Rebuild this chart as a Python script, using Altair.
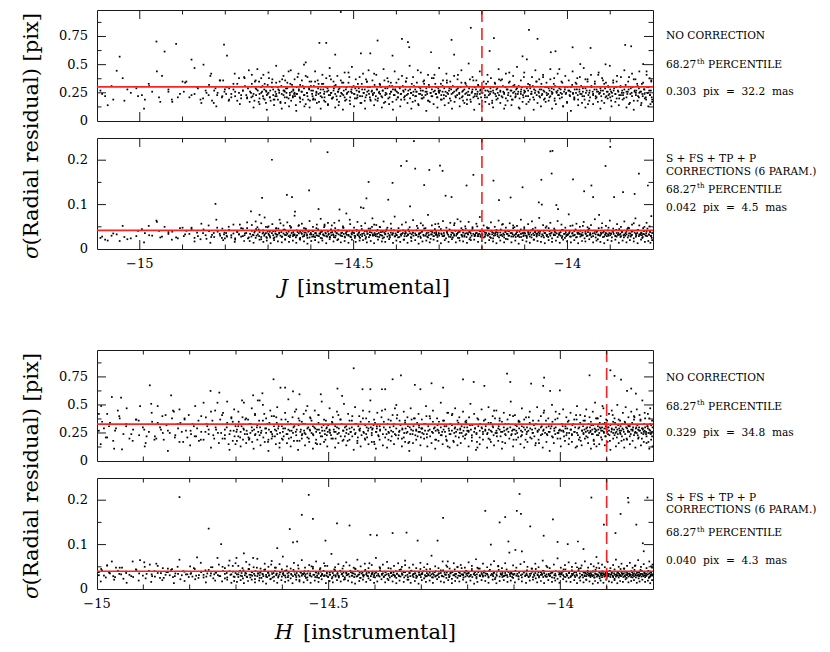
import altair as alt
import pandas as pd

FONT = "DejaVu Serif"
W, H = 556, 111

# ================= J group: stars read individually (magnitude, residual before / after)
J_X = [
    -15.092, -15.081, -15.066, -15.054, -15.047, -15.036, -15.021, -15.008,
    -14.995, -14.988, -14.979, -14.971, -14.961, -14.955, -14.948, -14.942, -14.933, -14.924, -14.915, -14.906,
    -14.897, -14.891, -14.884, -14.879, -14.872, -14.866, -14.858, -14.851, -14.846, -14.839,
    -14.833, -14.827, -14.823, -14.818, -14.812, -14.807, -14.803, -14.801,
    -14.798, -14.796, -14.791, -14.786, -14.781, -14.777, -14.772, -14.768, -14.763, -14.759,
    -14.754, -14.749, -14.745, -14.740, -14.736, -14.731, -14.727, -14.722, -14.720, -14.716,
    -14.714, -14.711, -14.708, -14.705, -14.703, -14.701,
    -14.699, -14.696, -14.691, -14.688, -14.685, -14.681, -14.678, -14.674, -14.671, -14.667,
    -14.664, -14.661, -14.658, -14.656, -14.652, -14.649, -14.646, -14.644, -14.641, -14.637,
    -14.634, -14.631, -14.628, -14.625, -14.622, -14.619, -14.616, -14.612, -14.609, -14.606,
    -14.604, -14.603, -14.683, -14.662, -14.639, -14.615,
    -14.599, -14.596, -14.593, -14.590, -14.587, -14.584, -14.582, -14.580, -14.577, -14.574,
    -14.571, -14.568, -14.566, -14.564, -14.561, -14.558, -14.556, -14.553, -14.550, -14.547,
    -14.545, -14.543, -14.540, -14.537, -14.535, -14.533, -14.530, -14.527, -14.524, -14.521,
    -14.518, -14.515, -14.512, -14.509, -14.506, -14.503,
    -14.499, -14.496, -14.493, -14.490, -14.487, -14.485, -14.483, -14.480, -14.477, -14.474,
    -14.471, -14.470, -14.467, -14.465, -14.462, -14.461, -14.458, -14.455, -14.452, -14.449,
    -14.446, -14.444, -14.441, -14.438, -14.435, -14.432, -14.429, -14.426, -14.423, -14.419,
    -14.416, -14.413, -14.410, -14.409, -14.406, -14.403,
    -14.399, -14.396, -14.393, -14.389, -14.387, -14.384, -14.381, -14.378, -14.376, -14.373,
    -14.370, -14.368, -14.365, -14.362, -14.359, -14.356, -14.353, -14.350, -14.347, -14.344,
    -14.341, -14.338, -14.335, -14.332, -14.329, -14.326, -14.323, -14.320, -14.319, -14.316,
    -14.313, -14.310, -14.307, -14.305, -14.302, -14.301,
    -14.298, -14.295, -14.292, -14.289, -14.285, -14.282, -14.279, -14.276, -14.273, -14.271,
    -14.268, -14.265, -14.262, -14.259, -14.256, -14.253, -14.250, -14.247, -14.244, -14.241,
    -14.238, -14.236, -14.233, -14.230, -14.227, -14.226, -14.223, -14.220, -14.217, -14.214,
    -14.211, -14.208, -14.206, -14.204, -14.202, -14.201,
    -14.199, -14.196, -14.193, -14.190, -14.187, -14.184, -14.182, -14.179, -14.176, -14.173,
    -14.172, -14.169, -14.166, -14.163, -14.160, -14.157, -14.154, -14.151, -14.148, -14.145,
    -14.142, -14.139, -14.136, -14.133, -14.130, -14.127, -14.124, -14.121, -14.118, -14.115,
    -14.112, -14.109, -14.106, -14.105, -14.103, -14.101,
    -14.099, -14.095, -14.092, -14.090, -14.087, -14.084, -14.081, -14.078, -14.075, -14.072,
    -14.070, -14.067, -14.064, -14.061, -14.060, -14.057, -14.054, -14.051, -14.048, -14.045,
    -14.042, -14.040, -14.039, -14.037, -14.035, -14.032, -14.030, -14.028, -14.026, -14.022,
    -14.019, -14.016, -14.013, -14.010, -14.006, -14.003,
    -13.998, -13.995, -13.992, -13.988, -13.987, -13.984, -13.981, -13.978, -13.975, -13.972,
    -13.970, -13.967, -13.964, -13.961, -13.958, -13.955, -13.952, -13.949, -13.946, -13.944,
    -13.940, -13.937, -13.934, -13.931, -13.928, -13.926, -13.923, -13.920, -13.917, -13.914,
    -13.911, -13.909, -13.906, -13.904, -13.902, -13.900,
    -13.898, -13.895, -13.891, -13.888, -13.885, -13.882, -13.879, -13.876, -13.873, -13.870,
    -13.867, -13.865, -13.862, -13.859, -13.856, -13.853, -13.851, -13.848, -13.845, -13.843,
    -13.840, -13.837, -13.835, -13.833, -13.830, -13.827, -13.825, -13.823, -13.820, -13.817,
    -13.815, -13.812, -13.810, -13.807, -13.805, -13.802,
]
J_TOP = [
    0.27, 0.22, 0.31, 0.446, 0.571, 0.18, 0.25, 0.29,
    0.23, 0.19, 0.33, 0.26, 0.705, 0.21, 0.40, 0.616, 0.28, 0.17, 0.684, 0.24,
    0.26, 0.35, 0.21, 0.545, 0.24, 0.30, 0.19, 0.50, 0.27, 0.23,
    0.42, 0.16, 0.29, 0.25, 0.36, 0.22, 0.678, 0.28,
    0.24, 0.58, 0.29, 0.21, 0.33, 0.26, 0.18, 0.38, 0.23, 0.27,
    0.31, 0.20, 0.45, 0.25, 0.22, 0.35, 0.28, 0.17, 0.24, 0.30,
    0.26, 0.41, 0.19, 0.27, 0.23, 0.32,
    0.25, 0.21, 0.34, 0.28, 0.19, 0.24, 0.30, 0.27, 0.16, 0.37,
    0.23, 0.26, 0.29, 0.21, 0.44, 0.25, 0.18, 0.32, 0.27, 0.22,
    0.24, 0.39, 0.28, 0.20, 0.26, 0.31, 0.23, 0.52, 0.25, 0.19,
    0.29, 0.35, 0.22, 0.27, 0.24, 0.13,
    0.27, 0.22, 0.31, 0.19, 0.25, 0.36, 0.24, 0.693, 0.28, 0.21,
    0.33, 0.26, 0.17, 0.693, 0.29, 0.23, 0.40, 0.25, 0.20, 0.27,
    0.31, 0.589, 0.22, 0.26, 0.14, 0.29, 0.967, 0.24, 0.34, 0.21,
    0.28, 0.25, 0.43, 0.18, 0.26, 0.30,
    0.24, 0.29, 0.20, 0.33, 0.26, 0.22, 0.60, 0.28, 0.25, 0.18,
    0.37, 0.23, 0.30, 0.27, 0.21, 0.60, 0.26, 0.24, 0.42, 0.19,
    0.28, 0.714, 0.25, 0.32, 0.22, 0.27, 0.16, 0.29, 0.24, 0.35,
    0.21, 0.26, 0.31, 0.58, 0.23, 0.28,
    0.26, 0.21, 0.30, 0.24, 0.729, 0.27, 0.19, 0.35, 0.23, 0.70,
    0.655, 0.28, 0.25, 0.17, 0.31, 0.22, 0.26, 0.45, 0.24, 0.29,
    0.20, 0.27, 0.33, 0.23, 0.26, 0.18, 0.30, 0.25, 0.61, 0.22,
    0.38, 0.27, 0.24, 0.21, 0.29, 0.26,
    0.27, 0.23, 0.31, 0.20, 0.26, 0.34, 0.24, 0.29, 0.18, 0.72,
    0.25, 0.589, 0.22, 0.28, 0.41, 0.24, 0.30, 0.21, 0.27, 0.16,
    0.33, 0.25, 0.23, 0.29, 0.19, 0.827, 0.26, 0.36, 0.22, 0.28,
    0.24, 0.31, 0.15, 0.27, 0.21, 0.25,
    0.25, 0.29, 0.21, 0.33, 0.27, 0.23, 0.621, 0.26, 0.18, 0.30,
    0.735, 0.24, 0.28, 0.20, 0.37, 0.26, 0.22, 0.31, 0.25, 0.14,
    0.28, 0.23, 0.43, 0.27, 0.19, 0.25, 0.32, 0.22, 0.29, 0.26,
    0.11, 0.24, 0.30, 0.574, 0.21, 0.27,
    0.26, 0.547, 0.22, 0.809, 0.29, 0.24, 0.31, 0.19, 0.27, 0.35,
    0.729, 0.25, 0.21, 0.28, 0.23, 0.39, 0.26, 0.17, 0.30, 0.24,
    0.27, 0.22, 0.61, 0.29, 0.25, 0.33, 0.20, 0.619, 0.26, 0.23,
    0.46, 0.28, 0.24, 0.13, 0.30, 0.25,
    0.27, 0.23, 0.30, 0.654, 0.25, 0.21, 0.34, 0.28, 0.19, 0.26,
    0.505, 0.24, 0.29, 0.22, 0.37, 0.27, 0.15, 0.25, 0.648, 0.31,
    0.23, 0.28, 0.20, 0.26, 0.41, 0.24, 0.29, 0.18, 0.27, 0.33,
    0.503, 0.22, 0.26, 0.30, 0.24, 0.21,
    0.26, 0.22, 0.29, 0.24, 0.35, 0.27, 0.20, 0.31, 0.25, 0.23,
    0.28, 0.675, 0.21, 0.26, 0.39, 0.24, 0.663, 0.30, 0.18, 0.27,
    0.25, 0.33, 0.22, 0.29, 0.26, 0.16, 0.24, 0.505, 0.28, 0.21,
    0.44, 0.25, 0.30, 0.23, 0.27, 0.19,
]
J_BOT = [
    0.025, 0.021, 0.030, 0.033, 0.018, 0.027, 0.024, 0.029,
    0.045, 0.036, 0.052, 0.030, 0.064, 0.041, 0.028, 0.050, 0.034, 0.039, 0.026, 0.047,
    0.029, 0.041, 0.034, 0.048, 0.025, 0.037, 0.022, 0.044, 0.031, 0.053,
    0.027, 0.036, 0.1016, 0.039, 0.030, 0.046, 0.033, 0.024,
    0.036, 0.028, 0.042, 0.031, 0.055, 0.024, 0.038, 0.033, 0.047, 0.029,
    0.035, 0.060, 0.026, 0.085, 0.032, 0.040, 0.030, 0.044, 0.077, 0.027,
    0.115, 0.037, 0.033, 0.050, 0.025, 0.039,
    0.034, 0.029, 0.201, 0.040, 0.026, 0.046, 0.032, 0.037, 0.058, 0.028,
    0.035, 0.043, 0.031, 0.122, 0.039, 0.027, 0.049, 0.117, 0.033, 0.084,
    0.030, 0.038, 0.054, 0.025, 0.036, 0.041, 0.029, 0.045, 0.033, 0.039,
    0.132, 0.026, 0.035, 0.044, 0.031, 0.037,
    0.033, 0.041, 0.028, 0.036, 0.047, 0.030, 0.090, 0.035, 0.025, 0.039,
    0.032, 0.052, 0.037, 0.029, 0.218, 0.034, 0.027, 0.044, 0.038, 0.031,
    0.059, 0.026, 0.036, 0.042, 0.033, 0.089, 0.030, 0.037, 0.048, 0.028,
    0.035, 0.040, 0.032, 0.066, 0.027, 0.038,
    0.036, 0.029, 0.043, 0.031, 0.038, 0.025, 0.094, 0.034, 0.092, 0.040,
    0.027, 0.114, 0.035, 0.151, 0.032, 0.046, 0.037, 0.030, 0.055, 0.033,
    0.041, 0.028, 0.036, 0.049, 0.031, 0.039, 0.026, 0.034, 0.044, 0.111,
    0.030, 0.037, 0.033, 0.149, 0.042, 0.029,
    0.031, 0.038, 0.027, 0.187, 0.034, 0.042, 0.029, 0.036, 0.198, 0.033,
    0.040, 0.096, 0.025, 0.037, 0.243, 0.181, 0.032, 0.047, 0.035, 0.028,
    0.039, 0.053, 0.144, 0.030, 0.036, 0.026, 0.178, 0.041, 0.033, 0.038,
    0.029, 0.045, 0.034, 0.031, 0.057, 0.036,
    0.188, 0.035, 0.176, 0.029, 0.120, 0.038, 0.032, 0.044, 0.027, 0.117,
    0.036, 0.030, 0.041, 0.034, 0.025, 0.039, 0.062, 0.031, 0.037, 0.028,
    0.046, 0.143, 0.033, 0.038, 0.026, 0.035, 0.042, 0.167, 0.030, 0.036,
    0.051, 0.029, 0.034, 0.040, 0.032, 0.027,
    0.034, 0.040, 0.028, 0.036, 0.031, 0.047, 0.033, 0.025, 0.038, 0.154,
    0.030, 0.035, 0.043, 0.029, 0.110, 0.037, 0.032, 0.056, 0.026, 0.039,
    0.034, 0.041, 0.030, 0.116, 0.036, 0.028, 0.049, 0.033, 0.038, 0.031,
    0.027, 0.044, 0.035, 0.139, 0.029, 0.037,
    0.035, 0.029, 0.041, 0.033, 0.037, 0.026, 0.045, 0.031, 0.038, 0.028,
    0.034, 0.105, 0.039, 0.156, 0.100, 0.030, 0.036, 0.048, 0.032, 0.027,
    0.040, 0.220, 0.035, 0.170, 0.221, 0.031, 0.043, 0.037, 0.099, 0.090,
    0.033, 0.038, 0.025, 0.042, 0.034, 0.029,
    0.033, 0.039, 0.028, 0.036, 0.157, 0.031, 0.044, 0.027, 0.037, 0.034,
    0.041, 0.030, 0.052, 0.130, 0.035, 0.029, 0.038, 0.046, 0.032, 0.143,
    0.117, 0.036, 0.026, 0.040, 0.033, 0.077, 0.031, 0.048, 0.037, 0.028,
    0.187, 0.035, 0.042, 0.030, 0.036, 0.230,
    0.034, 0.041, 0.117, 0.029, 0.036, 0.032, 0.045, 0.027, 0.038, 0.128,
    0.033, 0.030, 0.039, 0.026, 0.047, 0.035, 0.031, 0.040, 0.058, 0.124,
    0.028, 0.036, 0.043, 0.170, 0.032, 0.037, 0.025, 0.034, 0.050, 0.030,
    0.039, 0.143, 0.033, 0.041, 0.029, 0.036,
]

# J group, dense core of the cloud: x in mmag from J=-15.1, top in 0.01 pix, bottom in 0.001 pix
J_BAND_X = [
    12, 38, 71, 96, 122, 148, 167, 189, 206, 221, 236, 248, 256, 262, 269, 274, 281, 287, 292, 298,
    303, 309, 314, 319, 323, 328, 332, 337, 341, 345, 349, 353,
    358, 361, 362, 366, 368, 371, 372, 376, 379, 380, 384, 387, 388, 391, 395, 396, 399, 402, 404, 405,
    409, 412, 413, 417, 419, 420, 424, 426, 429, 431, 432, 436, 439, 440, 443, 445, 448, 451, 452, 455,
    458, 459, 462, 465, 467, 468, 472, 474, 475, 479, 481, 484, 485, 488, 491, 492, 496, 498, 500, 503,
    505, 506, 510, 512, 513, 517, 519, 522, 523, 526, 529, 531, 532, 535, 538, 540, 541, 545, 547, 548,
    552, 554, 557, 558, 561, 564, 565, 569, 571, 573, 576, 577, 580, 583, 584, 588, 590, 592, 595, 596,
    600, 602, 603, 607, 609, 612, 613, 616, 619, 620, 624, 626, 628, 631, 632, 636, 638, 639, 643, 645,
    648, 649, 652, 655, 656, 660, 662, 664, 667, 668, 672, 674, 675, 679, 681, 684, 685, 688, 691, 692,
    696, 698, 700, 703, 704, 708, 710, 711, 715, 717, 720, 721, 724, 727, 728, 732, 734, 736, 739, 740,
    744, 746, 747, 751, 753, 756, 757, 760, 763, 764, 768, 770, 772, 775, 776, 780, 782, 783, 787, 789,
    792, 793, 796, 799, 800, 804, 806, 808, 811, 812, 816, 818, 819, 823, 825, 828, 829, 832, 835, 836,
    840, 842, 844, 847, 848, 852, 854, 855, 859, 861, 864, 865, 868, 871, 872, 876, 878, 880, 883, 884,
    888, 890, 891, 895, 897, 900, 901, 904, 907, 908, 912, 914, 916, 919, 920, 924, 926, 927, 931, 933,
    936, 937, 940, 943, 944, 948, 950, 952, 955, 956, 960, 962, 963, 967, 969, 972, 973, 976, 979, 980,
    984, 986, 988, 991, 992, 996, 998, 999, 1003, 1005, 1008, 1009, 1012, 1015, 1016, 1020, 1022, 1024, 1027, 1028,
    1032, 1034, 1035, 1039, 1041, 1044, 1045, 1048, 1051, 1052, 1056, 1058, 1060, 1063, 1064, 1068, 1070, 1071, 1075, 1077,
    1080, 1081, 1084, 1087, 1088, 1092, 1094, 1096, 1099, 1100, 1104, 1106, 1107, 1111, 1113, 1116, 1117, 1120, 1123, 1124,
    1128, 1130, 1132, 1135, 1136, 1140, 1142, 1143, 1147, 1149, 1152, 1153, 1156, 1159, 1160, 1164, 1166, 1168, 1171, 1172,
    1176, 1178, 1179, 1183, 1185, 1188, 1189, 1192, 1195, 1196, 1200, 1202, 1204, 1207, 1208, 1212, 1214, 1215, 1219, 1221,
    1224, 1225, 1228, 1231, 1232, 1236, 1238, 1240, 1243, 1244, 1248, 1250, 1251, 1255, 1257, 1260, 1261, 1264, 1267, 1268,
    1272, 1274, 1276, 1279, 1280, 1284, 1286, 1287, 1291, 1293, 1296, 1297,
]
J_BAND_TOP = [
    24, 19, 28, 22, 31, 17, 26, 21, 34, 23, 29, 20, 25, 32, 18, 27, 23, 36, 21, 26,
    30, 19, 24, 28, 22, 33, 25, 20, 27, 38, 23, 29,
    26, 21, 33, 24, 18, 29, 23, 27, 35, 20, 25, 31, 22, 28, 16, 26, 24, 38, 21, 27,
    30, 23, 19, 26, 34, 22, 28, 25, 17, 31, 24, 27, 21, 36, 25, 29, 20, 23, 33, 26,
    22, 28, 25, 14, 30, 24, 27, 21, 32, 26, 19, 29, 23, 40, 25, 22, 28, 18, 31, 24,
    27, 20, 35, 23, 26, 29, 17, 25, 22, 33, 28, 24, 21, 30, 26, 15, 27, 23, 37, 25,
    21, 29, 24, 32, 19, 26, 28, 22, 25, 34, 23, 27, 18, 30, 24, 26, 39, 21, 28, 25,
    31, 24, 20, 27, 23, 29, 26, 16, 33, 22, 25, 28, 21, 35, 26, 24, 30, 19, 27, 23,
    25, 32, 22, 28, 18, 26, 24, 30, 21, 27, 36, 23, 25, 29, 20, 31, 24, 26, 17, 28,
    23, 27, 34, 21, 25, 29, 24, 19, 31, 26, 22, 28, 38, 24, 27, 20, 25, 33, 23, 26,
    28, 22, 26, 15, 30, 24, 27, 23, 35, 21, 26, 29, 24, 18, 32, 25, 22, 28, 26, 41,
    24, 30, 21, 27, 25, 33, 19, 26, 23, 29, 22, 36, 25, 27, 20, 28, 24, 31, 26, 17,
    27, 23, 29, 25, 20, 34, 26, 22, 28, 24, 31, 19, 26, 23, 37, 25, 28, 21, 30, 24,
    22, 26, 32, 24, 28, 18, 25, 30, 23, 27, 21, 35, 26, 24, 29, 16, 27, 25, 33, 22,
    29, 25, 23, 27, 36, 21, 26, 24, 30, 20, 28, 25, 34, 22, 27, 19, 31, 26, 24, 28,
    24, 31, 20, 26, 28, 23, 39, 25, 22, 29, 27, 17, 32, 24, 26, 21, 28, 25, 35, 23,
    26, 22, 28, 33, 24, 27, 19, 30, 25, 23, 29, 21, 37, 26, 24, 28, 18, 31, 25, 27,
    23, 29, 25, 21, 34, 26, 28, 24, 16, 30, 27, 22, 26, 32, 24, 20, 28, 25, 38, 23,
    28, 24, 31, 22, 26, 19, 29, 25, 35, 23, 27, 21, 30, 26, 24, 33, 22, 28, 17, 26,
    25, 27, 22, 36, 24, 29, 21, 26, 31, 23, 28, 18, 25, 34, 27, 24, 30, 20, 26, 23,
    30, 23, 27, 25, 20, 32, 26, 24, 28, 15, 29, 25, 22, 37, 26, 23, 27, 31, 21, 25,
    26, 33, 22, 28, 24, 19, 30, 25, 27, 23, 35, 21,
]
J_BAND_BOT = [
    28, 35, 22, 41, 31, 26, 38, 24, 33, 45, 29, 36, 23, 40, 32, 27, 48, 34, 25, 37,
    30, 43, 26, 35, 21, 39, 33, 28, 46, 31, 36, 24,
    34, 28, 41, 31, 37, 25, 45, 33, 29, 38, 22, 35, 42, 30, 36, 27, 49, 32, 39, 26,
    36, 31, 24, 40, 33, 28, 46, 35, 30, 38, 27, 43, 32, 21, 37, 34, 29, 52, 31, 36,
    29, 38, 33, 26, 42, 31, 35, 23, 39, 34, 28, 47, 32, 37, 30, 25, 41, 33, 36, 28,
    40, 32, 27, 36, 31, 44, 29, 34, 38, 24, 33, 30, 55, 35, 28, 39, 32, 26, 37, 31,
    33, 27, 39, 30, 35, 22, 42, 31, 36, 29, 48, 34, 26, 38, 32, 30, 41, 28, 35, 33,
    37, 30, 25, 41, 33, 36, 28, 32, 45, 29, 35, 31, 23, 39, 34, 27, 38, 31, 50, 33,
    31, 36, 29, 34, 43, 27, 32, 38, 30, 24, 37, 33, 40, 28, 35, 31, 26, 46, 32, 36,
    28, 35, 32, 38, 26, 41, 33, 30, 36, 21, 34, 39, 29, 31, 44, 35, 27, 33, 37, 30,
    35, 31, 42, 28, 33, 36, 25, 39, 32, 30, 47, 34, 28, 37, 31, 23, 40, 33, 29, 36,
    32, 38, 27, 34, 30, 45, 33, 29, 36, 31, 24, 39, 35, 28, 42, 32, 37, 26, 33, 58,
    30, 34, 37, 25, 39, 32, 28, 43, 31, 35, 27, 36, 33, 22, 38, 30, 46, 34, 29, 32,
    36, 29, 33, 40, 28, 34, 31, 26, 37, 32, 49, 30, 35, 27, 41, 33, 24, 36, 31, 38,
    33, 37, 26, 31, 44, 29, 35, 32, 38, 23, 34, 30, 40, 36, 28, 33, 53, 31, 27, 35,
    29, 32, 39, 34, 27, 36, 31, 45, 30, 25, 37, 33, 28, 42, 32, 35, 21, 38, 34, 30,
    38, 31, 35, 28, 33, 41, 26, 36, 32, 29, 47, 34, 30, 37, 24, 33, 39, 31, 35, 27,
    32, 36, 30, 43, 29, 34, 25, 38, 33, 31, 36, 28, 52, 35, 30, 40, 32, 26, 37, 34,
    35, 28, 33, 37, 31, 24, 39, 34, 30, 44, 32, 36, 27, 35, 29, 41, 33, 38, 22, 31,
    30, 37, 34, 27, 40, 32, 36, 29, 33, 48, 31, 35, 26, 38, 34, 30, 43, 28, 36, 32,
    34, 29, 38, 31, 26, 36, 33, 45, 30, 35, 28, 39, 32, 24, 37, 34, 31, 42, 29, 33,
    36, 31, 27, 40, 33, 35, 29, 46, 32, 38, 30, 25,
]
# J group, wider fringe of the cloud (same units as the core lists)
J_HALO_X = [
    25, 60, 110, 140, 175, 200, 228, 244, 265, 279, 295, 308, 322, 334, 344, 351,
    357, 362, 366, 371, 375, 380, 384, 389, 392, 397, 401, 406, 410, 414, 419, 423, 427, 432, 436, 440,
    445, 449, 453, 458, 462, 466, 471, 475, 479, 484, 488, 492, 497, 501, 505, 510, 514, 518, 523, 527,
    531, 536, 540, 544, 549, 553, 557, 562, 566, 570, 575, 579, 583, 588, 592, 596, 601, 605, 609, 614,
    618, 622, 627, 631, 635, 640, 644, 648, 653, 657, 661, 666, 670, 674, 679, 683, 687, 692, 696, 700,
    705, 709, 713, 718, 722, 726, 731, 735, 739, 744, 748, 752, 757, 761, 765, 770, 774, 778, 783, 787,
    791, 796, 800, 804, 809, 813, 817, 822, 826, 830, 835, 839, 843, 848, 852, 856, 861, 865, 869, 874,
    878, 882, 887, 891, 895, 900, 904, 908, 913, 917, 921, 926, 930, 934, 939, 943, 947, 952, 956, 960,
    965, 969, 973, 978, 982, 986, 991, 995, 999, 1004, 1008, 1012, 1017, 1021, 1025, 1030, 1034, 1038, 1043, 1047,
    1051, 1056, 1060, 1064, 1069, 1073, 1077, 1082, 1086, 1090, 1095, 1099, 1103, 1108, 1112, 1116, 1121, 1125, 1129, 1134,
    1138, 1142, 1147, 1151, 1155, 1160, 1164, 1168, 1173, 1177, 1181, 1186, 1190, 1194, 1199, 1203, 1207, 1212, 1216, 1220,
    1225, 1229, 1233, 1238, 1242, 1246, 1251, 1255, 1259, 1264, 1268, 1272, 1277, 1281, 1285, 1289, 1292, 1294, 1296, 1298,
]
J_HALO_TOP = [
    14, 38, 11, 44, 19, 35, 47, 16, 40, 13, 36, 18, 42, 15, 39, 21,
    17, 41, 12, 36, 46, 15, 38, 20, 33, 10, 43, 18, 37, 14, 49, 19, 35, 11, 40, 16,
    34, 13, 45, 21, 37, 9, 42, 17, 36, 50, 15, 39, 12, 35, 19, 44, 16, 33, 11, 41,
    18, 38, 14, 47, 20, 35, 12, 40, 17, 36, 10, 43, 19, 34, 15, 48, 13, 37, 21, 39,
    16, 42, 11, 35, 45, 18, 36, 14, 41, 20, 33, 12, 46, 17, 38, 15, 34, 10, 44, 19,
    37, 13, 40, 21, 35, 16, 49, 11, 39, 18, 34, 14, 43, 20, 36, 9, 41, 17, 38, 15,
    33, 12, 47, 19, 36, 14, 42, 16, 35, 11, 40, 21, 37, 13, 45, 18, 34, 15, 51, 17,
    39, 10, 36, 20, 44, 13, 35, 17, 41, 15, 38, 12, 34, 19, 46, 16, 37, 11, 42, 18,
    35, 14, 40, 21, 48, 12, 36, 17, 43, 15, 33, 19, 39, 10, 45, 16, 37, 13, 41, 20,
    34, 18, 46, 11, 38, 15, 42, 20, 35, 13, 40, 17, 36, 9, 44, 19, 33, 14, 39, 16,
    47, 12, 37, 18, 41, 15, 35, 21, 43, 11, 38, 16, 34, 20, 49, 13, 36, 17, 40, 14,
    39, 19, 45, 12, 35, 16, 42, 10, 37, 18, 44, 14, 34, 20, 41, 13, 38, 15, 36, 17,
]
J_HALO_BOT = [
    19, 52, 15, 61, 21, 48, 17, 57, 14, 66, 20, 50, 16, 55, 18, 47,
    18, 54, 14, 62, 49, 21, 58, 16, 71, 19, 51, 13, 56, 20, 47, 17, 66, 15, 53, 22,
    60, 16, 48, 19, 75, 14, 52, 21, 57, 17, 46, 12, 63, 18, 50, 20, 55, 15, 68, 19,
    49, 13, 59, 22, 53, 17, 47, 20, 64, 15, 51, 18, 80, 14, 56, 21, 48, 16, 61, 19,
    52, 20, 58, 15, 46, 18, 69, 13, 54, 21, 50, 17, 62, 16, 48, 22, 57, 14, 73, 19,
    47, 16, 55, 21, 60, 14, 49, 18, 65, 20, 52, 12, 58, 17, 46, 19, 77, 15, 53, 21,
    56, 18, 50, 13, 63, 20, 48, 16, 59, 22, 54, 15, 67, 19, 47, 17, 51, 14, 61, 20,
    49, 21, 57, 16, 72, 18, 53, 14, 46, 20, 60, 17, 50, 13, 64, 19, 55, 15, 48, 22,
    58, 15, 47, 19, 52, 12, 66, 20, 49, 17, 56, 14, 62, 21, 48, 18, 70, 16, 54, 13,
    51, 20, 59, 16, 46, 19, 63, 14, 55, 21, 48, 17, 78, 15, 53, 20, 57, 13, 50, 18,
    61, 17, 49, 22, 54, 15, 67, 19, 47, 16, 58, 13, 52, 20, 64, 18, 46, 21, 56, 14,
    50, 19, 62, 15, 48, 20, 55, 17, 69, 13, 53, 21, 47, 16, 59, 18, 51, 14, 74, 20,
]

# ================= H group: stars read individually
H_X = [
    -14.996, -14.991, -14.985, -14.978, -14.972, -14.968, -14.961, -14.955, -14.948, -14.946,
    -14.937, -14.926, -14.915, -14.907,
    -14.898, -14.893, -14.886, -14.881, -14.876, -14.869, -14.864, -14.858, -14.852, -14.847,
    -14.840, -14.836, -14.831, -14.826, -14.822, -14.817, -14.811, -14.805,
    -14.798, -14.794, -14.789, -14.784, -14.780, -14.775, -14.770, -14.766, -14.762, -14.759,
    -14.755, -14.751, -14.747, -14.743, -14.740, -14.736, -14.732, -14.728, -14.724, -14.720,
    -14.716, -14.712, -14.707, -14.703,
    -14.699, -14.695, -14.691, -14.687, -14.683, -14.680, -14.676, -14.672, -14.668, -14.665,
    -14.663, -14.659, -14.655, -14.653, -14.649, -14.646, -14.643, -14.639, -14.635, -14.631,
    -14.628, -14.624, -14.621, -14.619, -14.616, -14.613, -14.611, -14.608, -14.604, -14.601,
    -14.598, -14.594, -14.591, -14.588, -14.584, -14.581, -14.577, -14.574, -14.571, -14.568,
    -14.565, -14.563, -14.560, -14.558, -14.555, -14.552, -14.549, -14.546, -14.543, -14.540,
    -14.537, -14.534, -14.531, -14.528, -14.525, -14.522, -14.519, -14.517, -14.514, -14.511,
    -14.509, -14.507, -14.504, -14.502,
    -14.498, -14.495, -14.492, -14.488, -14.485, -14.482, -14.481, -14.478, -14.475, -14.471,
    -14.468, -14.465, -14.462, -14.459, -14.455, -14.452, -14.449, -14.446, -14.443, -14.440,
    -14.437, -14.434, -14.431, -14.427, -14.424, -14.421, -14.418, -14.415, -14.412, -14.410,
    -14.407, -14.405, -14.403, -14.401,
    -14.398, -14.396, -14.392, -14.389, -14.385, -14.381, -14.378, -14.375, -14.371, -14.368,
    -14.365, -14.362, -14.359, -14.355, -14.352, -14.348, -14.344, -14.341, -14.338, -14.335,
    -14.332, -14.329, -14.326, -14.322, -14.319, -14.316, -14.314, -14.311, -14.308, -14.305,
    -14.303, -14.302, -14.300, -14.357,
    -14.298, -14.295, -14.291, -14.288, -14.285, -14.281, -14.278, -14.275, -14.271, -14.268,
    -14.265, -14.262, -14.258, -14.255, -14.253, -14.250, -14.247, -14.244, -14.240, -14.237,
    -14.234, -14.231, -14.228, -14.225, -14.222, -14.219, -14.216, -14.213, -14.210, -14.207,
    -14.205, -14.203, -14.201, -14.243,
    -14.198, -14.195, -14.191, -14.187, -14.184, -14.181, -14.177, -14.174, -14.170, -14.167,
    -14.164, -14.162, -14.158, -14.155, -14.152, -14.150, -14.146, -14.143, -14.140, -14.137,
    -14.134, -14.131, -14.128, -14.125, -14.122, -14.119, -14.116, -14.115, -14.112, -14.108,
    -14.106, -14.104, -14.102, -14.179,
    -14.099, -14.097, -14.094, -14.091, -14.088, -14.085, -14.083, -14.079, -14.075, -14.072,
    -14.068, -14.065, -14.063, -14.060, -14.056, -14.053, -14.049, -14.046, -14.042, -14.039,
    -14.037, -14.036, -14.035, -14.031, -14.028, -14.025, -14.022, -14.019, -14.016, -14.013,
    -14.010, -14.006, -14.003, -14.001,
    -13.998, -13.995, -13.992, -13.989, -13.986, -13.984, -13.981, -13.978, -13.975, -13.972,
    -13.969, -13.966, -13.962, -13.959, -13.956, -13.953, -13.950, -13.947, -13.944, -13.941,
    -13.937, -13.935, -13.933, -13.930, -13.927, -13.924, -13.921, -13.918, -13.915, -13.912,
    -13.909, -13.906, -13.904, -13.902, -13.901, -13.964,
    -13.899, -13.897, -13.894, -13.892, -13.889, -13.886, -13.883, -13.881, -13.878, -13.875,
    -13.872, -13.870, -13.869, -13.866, -13.863, -13.860, -13.856, -13.854, -13.853, -13.850,
    -13.847, -13.844, -13.841, -13.839, -13.837, -13.836, -13.833, -13.830, -13.827, -13.824,
    -13.822, -13.820, -13.818, -13.815, -13.812, -13.810, -13.808, -13.806, -13.804, -13.802,
]
H_TOP = [
    0.42, 0.49, 0.29, 0.21, 0.34, 0.571, 0.27, 0.45, 0.565, 0.104,
    0.31, 0.24, 0.37, 0.49,
    0.28, 0.22, 0.675, 0.35, 0.19, 0.49, 0.30, 0.25, 0.41, 0.27,
    0.586, 0.45, 0.23, 0.33, 0.46, 0.26, 0.38, 0.21,
    0.27, 0.33, 0.22, 0.29, 0.18, 0.40, 0.52, 0.26, 0.31, 0.24,
    0.625, 0.36, 0.20, 0.28, 0.52, 0.61, 0.25, 0.43, 0.23, 0.30,
    0.15, 0.27, 0.35, 0.22,
    0.26, 0.31, 0.21, 0.54, 0.28, 0.37, 0.24, 0.19, 0.33, 0.27,
    0.586, 0.23, 0.30, 0.54, 0.54, 0.25, 0.604, 0.42, 0.29, 0.17,
    0.34, 0.26, 0.22, 0.729, 0.28, 0.39, 0.24, 0.31, 0.654, 0.20,
    0.29, 0.654, 0.24, 0.35, 0.27, 0.21, 0.621, 0.31, 0.26, 0.18,
    0.38, 0.595, 0.28, 0.23, 0.33, 0.25, 0.45, 0.29, 0.20, 0.27,
    0.36, 0.24, 0.30, 0.16, 0.28, 0.41, 0.25, 0.595, 0.22, 0.32,
    0.27, 0.19, 0.30, 0.26,
    0.28, 0.23, 0.34, 0.26, 0.20, 0.30, 0.646, 0.25, 0.37, 0.58,
    0.27, 0.22, 0.31, 0.18, 0.29, 0.26, 0.40, 0.827, 0.24, 0.33,
    0.21, 0.28, 0.35, 0.64, 0.25, 0.19, 0.30, 0.27, 0.44, 0.64,
    0.23, 0.29, 0.32, 0.15,
    0.26, 0.31, 0.22, 0.28, 0.64, 0.35, 0.64, 0.24, 0.19, 0.30,
    0.27, 0.729, 0.33, 0.23, 0.41, 0.26, 0.764, 0.29, 0.21, 0.36,
    0.25, 0.31, 0.17, 0.28, 0.24, 0.38, 0.679, 0.27, 0.22, 0.32,
    0.26, 0.64, 0.29, 0.47,
    0.29, 0.24, 0.33, 0.21, 0.27, 0.38, 0.693, 0.25, 0.30, 0.19,
    0.28, 0.35, 0.23, 0.26, 0.654, 0.31, 0.22, 0.43, 0.27, 0.24,
    0.32, 0.18, 0.29, 0.26, 0.36, 0.21, 0.28, 0.25, 0.729, 0.30,
    0.23, 0.34, 0.27, 0.13,
    0.27, 0.32, 0.23, 0.705, 0.29, 0.25, 0.37, 0.21, 0.30, 0.26,
    0.67, 0.28, 0.24, 0.34, 0.19, 0.27, 0.31, 0.45, 0.25, 0.22,
    0.29, 0.36, 0.26, 0.17, 0.30, 0.24, 0.28, 0.779, 0.33, 0.705,
    0.23, 0.27, 0.40, 0.12,
    0.28, 0.24, 0.31, 0.21, 0.35, 0.27, 0.23, 0.30, 0.19, 0.26,
    0.39, 0.29, 0.69, 0.25, 0.22, 0.33, 0.27, 0.16, 0.30, 0.24,
    0.67, 0.28, 0.744, 0.36, 0.23, 0.26, 0.625, 0.31, 0.21, 0.29,
    0.44, 0.25, 0.27, 0.63,
    0.27, 0.31, 0.22, 0.29, 0.25, 0.35, 0.20, 0.28, 0.24, 0.33,
    0.26, 0.41, 0.23, 0.30, 0.18, 0.27, 0.25, 0.36, 0.29, 0.21,
    0.764, 0.26, 0.32, 0.24, 0.15, 0.28, 0.38, 0.23, 0.30, 0.27,
    0.49, 0.25, 0.34, 0.22, 0.29, 0.13,
    0.26, 0.30, 0.23, 0.809, 0.28, 0.35, 0.759, 0.25, 0.21, 0.32,
    0.27, 0.24, 0.726, 0.29, 0.19, 0.34, 0.625, 0.26, 0.31, 0.22,
    0.646, 0.28, 0.40, 0.25, 0.601, 0.30, 0.23, 0.27, 0.37, 0.20,
    0.29, 0.26, 0.43, 0.24, 0.31, 0.17, 0.28, 0.33, 0.25, 0.22,
]
H_BOT = [
    0.038, 0.045, 0.030, 0.053, 0.035, 0.062, 0.027, 0.041, 0.033, 0.048,
    0.036, 0.029, 0.043, 0.065,
    0.060, 0.034, 0.055, 0.029, 0.040, 0.036, 0.025, 0.047, 0.032, 0.038,
    0.043, 0.027, 0.035, 0.050, 0.207, 0.031, 0.039, 0.033,
    0.034, 0.028, 0.045, 0.071, 0.031, 0.038, 0.026, 0.042, 0.035, 0.136,
    0.030, 0.049, 0.033, 0.037, 0.070, 0.029, 0.101, 0.040, 0.024, 0.036,
    0.053, 0.032, 0.039, 0.027,
    0.070, 0.033, 0.041, 0.029, 0.080, 0.036, 0.027, 0.045, 0.032, 0.038,
    0.070, 0.030, 0.048, 0.035, 0.025, 0.039, 0.034, 0.043, 0.028, 0.037,
    0.031, 0.055, 0.026, 0.036, 0.040, 0.033, 0.092, 0.029, 0.038, 0.044,
    0.036, 0.030, 0.042, 0.027, 0.135, 0.034, 0.105, 0.039, 0.031, 0.107,
    0.046, 0.028, 0.037, 0.167, 0.033, 0.040, 0.025, 0.035, 0.212, 0.030,
    0.051, 0.158, 0.032, 0.038, 0.026, 0.036, 0.044, 0.029, 0.034, 0.041,
    0.031, 0.109, 0.037, 0.028,
    0.033, 0.039, 0.027, 0.044, 0.031, 0.148, 0.036, 0.029, 0.041, 0.034,
    0.052, 0.026, 0.037, 0.032, 0.143, 0.038, 0.030, 0.035, 0.046, 0.028,
    0.040, 0.033, 0.025, 0.037, 0.031, 0.043, 0.036, 0.029, 0.058, 0.122,
    0.034, 0.039, 0.027, 0.035,
    0.037, 0.121, 0.030, 0.042, 0.034, 0.028, 0.039, 0.033, 0.047, 0.026,
    0.036, 0.126, 0.031, 0.040, 0.035, 0.029, 0.044, 0.032, 0.038, 0.054,
    0.127, 0.027, 0.036, 0.041, 0.030, 0.034, 0.039, 0.025, 0.109, 0.037,
    0.031, 0.045, 0.033, 0.028,
    0.034, 0.040, 0.028, 0.036, 0.031, 0.045, 0.033, 0.026, 0.038, 0.030,
    0.109, 0.035, 0.042, 0.029, 0.160, 0.037, 0.032, 0.050, 0.027, 0.036,
    0.039, 0.031, 0.044, 0.034, 0.025, 0.038, 0.030, 0.047, 0.033, 0.037,
    0.028, 0.041, 0.035, 0.062,
    0.035, 0.029, 0.041, 0.033, 0.038, 0.027, 0.046, 0.031, 0.036, 0.030,
    0.040, 0.176, 0.034, 0.028, 0.043, 0.100, 0.032, 0.037, 0.026, 0.039,
    0.052, 0.150, 0.033, 0.036, 0.029, 0.162, 0.044, 0.031, 0.107, 0.035,
    0.038, 0.027, 0.033, 0.048,
    0.034, 0.088, 0.176, 0.029, 0.214, 0.169, 0.085, 0.037, 0.031, 0.042,
    0.027, 0.141, 0.035, 0.039, 0.030, 0.045, 0.033, 0.026, 0.038, 0.032,
    0.041, 0.120, 0.036, 0.028, 0.049, 0.034, 0.030, 0.037, 0.157, 0.025,
    0.040, 0.106, 0.033, 0.036,
    0.033, 0.039, 0.028, 0.044, 0.031, 0.101, 0.036, 0.027, 0.042, 0.034,
    0.030, 0.038, 0.107, 0.025, 0.047, 0.032, 0.090, 0.037, 0.029, 0.041,
    0.035, 0.031, 0.206, 0.039, 0.026, 0.043, 0.033, 0.058, 0.028, 0.036,
    0.040, 0.145, 0.032, 0.037, 0.030, 0.049,
    0.035, 0.029, 0.041, 0.032, 0.038, 0.027, 0.044, 0.126, 0.031, 0.036,
    0.030, 0.169, 0.039, 0.034, 0.046, 0.028, 0.037, 0.205, 0.195, 0.033,
    0.040, 0.026, 0.035, 0.052, 0.031, 0.145, 0.038, 0.029, 0.043, 0.034,
    0.103, 0.085, 0.036, 0.030, 0.206, 0.041, 0.027, 0.039, 0.033, 0.048,
]

# H group, dense core: x in mmag from H=-15.0, top in 0.01 pix, bottom in 0.001 pix
H_BAND_X = [
    4, 11, 19, 26, 35, 41, 48, 57, 63, 70, 78, 84, 91, 99, 105, 112, 118, 125, 131, 138,
    144, 150, 157, 162, 168, 175, 180, 186, 192, 198, 203, 209, 214, 219, 225, 230, 236, 241, 246, 251,
    256, 261, 266, 271, 276, 281, 286, 290, 295, 299,
    302, 305, 306, 310, 312, 315, 316, 319, 322, 323, 327, 329, 331, 334, 335, 339, 341, 342, 346, 348,
    351, 352, 355, 358, 359, 363, 365, 367, 370, 371, 375, 377, 378, 382, 384, 387, 388, 391, 394, 395,
    399, 401, 403, 406, 407, 411, 413, 414, 418, 420, 423, 424, 427, 430, 431, 435, 437, 439, 442, 443,
    447, 449, 450, 454, 456, 459, 460, 463, 466, 467, 471, 473, 475, 478, 479, 483, 485, 486, 490, 492,
    495, 496, 499, 502, 503, 507, 509, 511, 514, 515, 519, 521, 522, 526, 528, 531, 532, 535, 538, 539,
    543, 545, 547, 550, 551, 555, 557, 558, 562, 564, 567, 568, 571, 574, 575, 579, 581, 583, 586, 587,
    591, 593, 594, 598, 600, 603, 604, 607, 610, 611, 615, 617, 619, 622, 623, 627, 629, 630, 634, 636,
    639, 640, 643, 646, 647, 651, 653, 655, 658, 659, 663, 665, 666, 670, 672, 675, 676, 679, 682, 683,
    687, 689, 691, 694, 695, 699, 701, 702, 706, 708, 711, 712, 715, 718, 719, 723, 725, 727, 730, 731,
    735, 737, 738, 742, 744, 747, 748, 751, 754, 755, 759, 761, 763, 766, 767, 771, 773, 774, 778, 780,
    783, 784, 787, 790, 791, 795, 797, 799, 802, 803, 807, 809, 810, 814, 816, 819, 820, 823, 826, 827,
    831, 833, 835, 838, 839, 843, 845, 846, 850, 852, 855, 856, 859, 862, 863, 867, 869, 871, 874, 875,
    879, 881, 882, 886, 888, 891, 892, 895, 898, 899, 903, 905, 907, 910, 911, 915, 917, 918, 922, 924,
    927, 928, 931, 934, 935, 939, 941, 943, 946, 947, 951, 953, 954, 958, 960, 963, 964, 967, 970, 971,
    975, 977, 979, 982, 983, 987, 989, 990, 994, 996, 999, 1000, 1003, 1006, 1007, 1011, 1013, 1015, 1018, 1019,
    1023, 1025, 1026, 1030, 1032, 1035, 1036, 1039, 1042, 1043, 1047, 1049, 1050, 1052, 1053, 1055, 1056, 1058, 1059, 1061,
    1062, 1064, 1065, 1066, 1068, 1069, 1071, 1072, 1074, 1075, 1077, 1078, 1079, 1081, 1082, 1084, 1085, 1087, 1088, 1090,
    1091, 1092, 1094, 1095, 1097, 1098, 1100, 1101, 1103, 1104, 1105, 1107, 1108, 1110, 1111, 1113, 1114, 1116, 1117, 1118,
    1120, 1121, 1123, 1124, 1126, 1127, 1129, 1130, 1131, 1133, 1134, 1136, 1137, 1139, 1140, 1142, 1143, 1144, 1146, 1147,
    1149, 1150, 1152, 1153, 1155, 1156, 1157, 1159, 1160, 1162, 1163, 1165, 1166, 1168, 1169, 1170, 1172, 1173, 1175, 1176,
    1178, 1179, 1181, 1182, 1183, 1185, 1186, 1188, 1189, 1191, 1192, 1194, 1195, 1196, 1198, 1199,
]
H_BAND_TOP = [
    27, 35, 21, 31, 18, 29, 40, 24, 33, 20, 28, 37, 23, 30, 16, 26, 43, 22, 34, 28,
    19, 32, 25, 38, 21, 29, 34, 17, 27, 41, 24, 31, 22, 36, 26, 19, 33, 28, 44, 23,
    30, 25, 37, 20, 28, 34, 24, 39, 27, 31,
    28, 22, 35, 26, 31, 19, 29, 24, 38, 27, 21, 33, 25, 30, 17, 28, 42, 24, 32, 26,
    23, 30, 27, 36, 21, 29, 25, 33, 19, 28, 26, 40, 24, 31, 22, 27, 34, 29, 16, 25,
    31, 26, 22, 29, 37, 24, 28, 20, 33, 27, 25, 30, 44, 23, 28, 32, 18, 26, 35, 24,
    27, 33, 24, 21, 30, 28, 39, 25, 31, 23, 29, 26, 15, 34, 28, 22, 30, 27, 37, 24,
    29, 23, 32, 27, 25, 35, 20, 28, 31, 26, 24, 41, 29, 22, 33, 27, 19, 30, 25, 28,
    24, 36, 26, 30, 22, 28, 33, 25, 18, 31, 27, 29, 23, 38, 26, 32, 24, 21, 29, 35,
    30, 25, 28, 17, 34, 26, 29, 23, 31, 27, 45, 24, 30, 21, 28, 33, 26, 25, 36, 22,
    26, 31, 24, 29, 38, 23, 27, 32, 20, 28, 25, 34, 29, 26, 16, 30, 24, 37, 27, 31,
    23, 28, 34, 26, 30, 21, 29, 25, 33, 27, 40, 24, 31, 28, 22, 26, 35, 29, 19, 27,
    32, 27, 25, 30, 23, 36, 28, 26, 31, 18, 29, 24, 33, 27, 42, 25, 30, 22, 28, 34,
    25, 29, 31, 22, 27, 35, 24, 30, 26, 39, 28, 21, 32, 26, 29, 24, 17, 31, 27, 33,
    29, 24, 36, 27, 31, 25, 20, 28, 34, 26, 30, 23, 38, 27, 25, 31, 28, 22, 35, 26,
    27, 33, 23, 29, 26, 41, 30, 24, 28, 19, 32, 27, 25, 35, 29, 22, 31, 26, 37, 28,
    24, 30, 27, 34, 21, 28, 25, 32, 29, 16, 26, 36, 28, 23, 31, 27, 43, 25, 30, 24,
    31, 26, 29, 22, 35, 27, 24, 30, 38, 25, 28, 20, 33, 27, 26, 31, 23, 29, 36, 25,
    28, 23, 32, 26, 30, 37, 25, 29, 21, 34, 27, 31, 24, 28, 40, 26, 22, 30, 27, 33,
    25, 30, 27, 35, 24, 28, 32, 19, 29, 26, 38, 27, 23, 31, 28, 25, 34, 29, 21, 30,
    27, 33, 26, 29, 22, 31, 28, 36, 24, 30, 27, 18, 32, 26, 29, 41, 25, 28, 23, 34,
    30, 26, 28, 24, 37, 29, 25, 31, 27, 22, 33, 28, 26, 35, 24, 30, 20, 29, 27, 32,
    26, 31, 24, 28, 34, 27, 30, 23, 39, 26, 29, 25, 32, 28, 21, 30, 27, 36, 25, 29,
    28, 24, 33, 27, 30, 26, 22, 31, 29, 25, 38, 27, 24, 32, 26, 30,
]
H_BAND_BOT = [
    31, 42, 26, 37, 29, 48, 34, 23, 39, 32, 27, 44, 35, 30, 24, 41, 33, 28, 52, 36,
    25, 38, 31, 45, 29, 34, 22, 40, 33, 27, 36, 47, 30, 25, 39, 32, 28, 43, 35, 24,
    37, 31, 29, 50, 34, 26, 40, 33, 28, 36,
    33, 27, 39, 30, 36, 24, 42, 31, 35, 28, 45, 32, 26, 38, 30, 34, 22, 40, 29, 35,
    31, 37, 25, 33, 29, 44, 32, 27, 36, 30, 23, 39, 34, 28, 48, 31, 35, 26, 33, 38,
    28, 34, 31, 41, 26, 35, 30, 37, 24, 32, 29, 43, 33, 27, 36, 31, 20, 38, 30, 34,
    36, 29, 33, 26, 40, 31, 35, 28, 46, 32, 27, 37, 30, 34, 25, 39, 31, 33, 29, 52,
    30, 35, 27, 38, 32, 24, 36, 31, 42, 28, 34, 30, 26, 39, 33, 29, 37, 22, 35, 31,
    34, 28, 41, 30, 36, 27, 33, 45, 29, 32, 38, 25, 35, 31, 28, 40, 33, 30, 24, 37,
    29, 33, 36, 31, 26, 39, 30, 34, 28, 47, 32, 35, 27, 31, 38, 23, 34, 30, 36, 29,
    32, 37, 30, 25, 34, 31, 43, 28, 35, 33, 26, 38, 30, 32, 21, 36, 29, 41, 33, 27,
    35, 30, 28, 39, 32, 27, 34, 36, 24, 31, 44, 29, 33, 37, 30, 26, 35, 32, 28, 40,
    31, 34, 27, 36, 30, 42, 28, 33, 25, 37, 32, 29, 35, 23, 38, 31, 34, 28, 49, 30,
    36, 29, 33, 31, 26, 39, 34, 30, 37, 28, 32, 45, 27, 35, 31, 24, 33, 38, 30, 29,
    33, 28, 37, 30, 35, 32, 26, 40, 31, 34, 29, 36, 22, 33, 30, 43, 28, 35, 32, 27,
    30, 36, 31, 27, 38, 33, 29, 35, 25, 32, 41, 30, 34, 28, 37, 31, 26, 33, 39, 29,
    35, 31, 28, 34, 30, 46, 27, 33, 36, 24, 31, 38, 29, 32, 35, 27, 40, 30, 33, 28,
    32, 29, 35, 26, 37, 31, 34, 30, 23, 39, 33, 28, 36, 31, 44, 27, 34, 30, 25, 36,
    29, 34, 31, 38, 27, 33, 30, 42, 35, 28, 32, 26, 37, 31, 29, 35, 21, 33, 38, 30,
    34, 30, 27, 36, 32, 29, 40, 31, 26, 35, 33, 48, 28, 32, 30, 37, 24, 34, 31, 27,
    31, 36, 33, 28, 35, 30, 25, 38, 32, 29, 34, 41, 27, 33, 36, 30, 28, 35, 23, 32,
    28, 33, 37, 30, 26, 34, 31, 45, 29, 36, 32, 27, 35, 30, 39, 33, 25, 31, 34, 28,
    35, 30, 32, 27, 38, 31, 34, 29, 43, 33, 26, 36, 30, 32, 24, 37, 31, 34, 28, 40,
    32, 29, 36, 31, 27, 34, 30, 39, 33, 25, 35, 28, 31, 37, 30, 33,
]
# H group, wider fringe of the cloud
H_HALO_X = [
    8, 22, 37, 49, 64, 77, 90, 103, 117, 128, 141, 153, 166, 178, 189, 201, 212, 224, 235, 246,
    255, 263, 270, 276, 281, 286, 290, 293, 296, 299,
    302, 305, 310, 314, 317, 322, 326, 329, 334, 338, 341, 346, 350, 353, 358, 362, 365, 370, 374, 377,
    382, 386, 389, 394, 398, 401, 406, 410, 413, 418, 422, 425, 430, 434, 437, 442, 446, 449, 454, 458,
    461, 466, 470, 473, 478, 482, 485, 490, 494, 497, 502, 506, 509, 514, 518, 521, 526, 530, 533, 538,
    542, 545, 550, 554, 557, 562, 566, 569, 574, 578, 581, 586, 590, 593, 598, 602, 605, 610, 614, 617,
    622, 626, 629, 634, 638, 641, 646, 650, 653, 658, 662, 665, 670, 674, 677, 682, 686, 689, 694, 698,
    701, 706, 710, 713, 718, 722, 725, 730, 734, 737, 742, 746, 749, 754, 758, 761, 766, 770, 773, 778,
    782, 785, 790, 794, 797, 802, 806, 809, 814, 818, 821, 826, 830, 833, 838, 842, 845, 850, 854, 857,
    862, 866, 869, 874, 878, 881, 886, 890, 893, 898, 902, 905, 910, 914, 917, 922, 926, 929, 934, 938,
    941, 946, 950, 953, 958, 962, 965, 970, 974, 977, 982, 986, 989, 994, 998, 1001, 1006, 1010, 1013, 1018,
    1022, 1025, 1030, 1033, 1036, 1040, 1043, 1046, 1050, 1053, 1056, 1060, 1063, 1066, 1070, 1072, 1075, 1078, 1081, 1084,
    1087, 1090, 1093, 1096, 1099, 1102, 1105, 1108, 1111, 1114, 1117, 1120, 1123, 1126, 1129, 1132, 1135, 1138, 1141, 1144,
    1147, 1150, 1153, 1156, 1159, 1162, 1165, 1168, 1171, 1174, 1177, 1180, 1183, 1186, 1189, 1192, 1194, 1196, 1198, 1199,
]
H_HALO_TOP = [
    15, 42, 11, 38, 47, 18, 36, 13, 51, 20, 40, 9, 44, 17, 37, 14, 49, 19, 39, 12,
    45, 16, 41, 20, 53, 10, 38, 18, 46, 15,
    18, 44, 13, 39, 52, 16, 37, 20, 47, 11, 41, 19, 36, 14, 50, 17, 38, 9, 45, 20,
    40, 15, 48, 12, 37, 19, 43, 16, 55, 13, 39, 18, 46, 10, 36, 20, 42, 14, 49, 17,
    38, 11, 45, 19, 41, 15, 53, 17, 36, 13, 47, 20, 39, 12, 44, 16, 37, 18, 51, 14,
    42, 19, 36, 10, 48, 16, 40, 13, 45, 20, 38, 15, 54, 17, 37, 11, 43, 19, 39, 14,
    46, 12, 37, 18, 41, 15, 50, 20, 36, 13, 44, 17, 39, 9, 47, 16, 38, 19, 42, 14,
    37, 20, 49, 13, 40, 16, 45, 11, 38, 18, 52, 15, 36, 19, 43, 12, 41, 17, 47, 14,
    39, 16, 44, 20, 36, 13, 51, 18, 42, 10, 38, 15, 46, 19, 37, 12, 48, 17, 40, 14,
    45, 18, 38, 11, 43, 16, 37, 20, 53, 13, 41, 19, 36, 15, 47, 12, 39, 17, 44, 20,
    36, 14, 48, 19, 40, 12, 45, 17, 38, 9, 50, 16, 37, 20, 42, 13, 46, 18, 39, 15,
    43, 17, 37, 12, 49, 19, 41, 14, 36, 20, 46, 16, 39, 11, 44, 18, 52, 13, 38, 15,
    40, 19, 47, 14, 37, 17, 42, 10, 45, 20, 38, 13, 50, 16, 36, 18, 43, 12, 48, 19,
    39, 15, 44, 18, 37, 12, 46, 20, 41, 14, 54, 17, 38, 16, 42, 11, 47, 19, 36, 13,
]
H_HALO_BOT = [
    17, 53, 21, 48, 14, 62, 19, 50, 16, 57, 20, 46, 13, 66, 18, 51, 22, 59, 15, 49,
    19, 55, 17, 47, 21, 64, 14, 52, 18, 58,
    16, 52, 20, 47, 13, 61, 18, 55, 21, 49, 15, 68, 19, 46, 17, 57, 12, 50, 22, 63,
    18, 48, 14, 56, 20, 73, 16, 51, 19, 46, 13, 59, 21, 53, 17, 65, 15, 48, 20, 54,
    14, 50, 19, 62, 16, 47, 22, 58, 13, 52, 18, 79, 15, 49, 20, 56, 17, 46, 21, 60,
    19, 53, 15, 48, 12, 66, 18, 51, 21, 57, 16, 47, 20, 54, 14, 70, 17, 49, 22, 55,
    15, 61, 20, 46, 17, 52, 13, 58, 19, 50, 16, 64, 21, 48, 14, 55, 18, 47, 12, 59,
    20, 49, 16, 56, 19, 75, 14, 51, 22, 47, 17, 62, 15, 53, 20, 46, 13, 58, 18, 50,
    17, 54, 21, 48, 15, 60, 19, 52, 12, 67, 16, 46, 20, 57, 18, 49, 14, 55, 21, 63,
    13, 51, 18, 47, 20, 58, 16, 82, 19, 53, 15, 48, 22, 56, 17, 61, 14, 50, 19, 46,
    21, 57, 15, 49, 18, 64, 13, 52, 20, 47, 16, 55, 19, 69, 14, 48, 22, 54, 17, 60,
    16, 50, 20, 58, 13, 46, 19, 53, 15, 62, 21, 48, 17, 56, 12, 51, 18, 72, 14, 47,
    19, 55, 14, 49, 21, 61, 17, 47, 15, 54, 20, 66, 13, 50, 18, 57, 16, 46, 22, 52,
    15, 59, 18, 48, 20, 53, 14, 65, 17, 50, 21, 56, 16, 47, 19, 62, 13, 51, 20, 55,
]

# ================= axes, reference values, labels
J_DOMAIN = [-15.1, -13.8]
H_DOMAIN = [-15.0, -13.8]
J_TOP_DOMAIN = [0, 0.985]
H_TOP_DOMAIN = [0, 0.99]
BOT_DOMAIN = [0, 0.25]
X_MAJOR = [-15, -14.5, -14]
X_LABELS = ["\u221215", "\u221214.5", "\u221214"]
X_MINOR = [-15.1, -14.9, -14.8, -14.7, -14.6, -14.4, -14.3, -14.2, -14.1, -13.9]
TOP_Y_MAJOR = [0, 0.25, 0.5, 0.75]
TOP_Y_LABELS = ["0", "0.25", "0.5", "0.75"]
TOP_Y_MINOR = [0.125, 0.375, 0.625, 0.875]
BOT_Y_MAJOR = [0, 0.1, 0.2]
BOT_Y_LABELS = ["0", "0.1", "0.2"]
BOT_Y_MINOR = [0.05, 0.15]
PCT_J_TOP, PCT_J_BOT, PCT_H_TOP, PCT_H_BOT = 0.303, 0.042, 0.329, 0.040
DASH_J, DASH_H = -14.2, -13.9

SP = "\u00a0\u00a0"
NOTES_J_TOP = [("NO CORRECTION", 26.3), ("PCT", 55.3),
               ("0.303" + SP + "pix" + SP + "=" + SP + "32.2" + SP + "mas", 82)]
NOTES_J_BOT = [("S + FS + TP + P", 21.0), ("CORRECTIONS (6 PARAM.)", 33.5), ("PCT", 51.5),
               ("0.042" + SP + "pix" + SP + "=" + SP + "4.5" + SP + "mas", 70)]
NOTES_H_TOP = [("NO CORRECTION", 27.7), ("PCT", 56.7),
               ("0.329" + SP + "pix" + SP + "=" + SP + "34.8" + SP + "mas", 82.7)]
NOTES_H_BOT = [("S + FS + TP + P", 19.5), ("CORRECTIONS (6 PARAM.)", 32.0), ("PCT", 55.0),
               ("0.040" + SP + "pix" + SP + "=" + SP + "4.3" + SP + "mas", 82.7)]

RED = "#ff2020"
INK = "#1a1a1a"
NOTE_X = W + 13
NOTE_SIZE = 10.6
TICK_SIZE = 13


def txt(s, x, y, size, align="left", style="normal", angle=0, baseline="middle"):
    return alt.Chart(pd.DataFrame({"t": [s]})).mark_text(
        font=FONT, fontSize=size, fontStyle=style, align=align, baseline=baseline,
        angle=angle, color="black"
    ).encode(text="t:N", x=alt.value(x), y=alt.value(y))


def panel(xs, ys, extra, x0, bscale, xdom, ydom, ymaj, ylab, ymin, pct, dash, notes, show_x):
    n = min(len(xs), len(ys))
    allx = list(xs[:n])
    ally = list(ys[:n])
    for bx, by in extra:
        m = min(len(bx), len(by))
        allx += [round(x0 + v / 1000.0, 4) for v in bx[:m]]
        ally += [v / bscale for v in by[:m]]
    df = pd.DataFrame({"x": allx, "y": ally})
    sx = alt.Scale(domain=xdom, nice=False, zero=False)
    sy = alt.Scale(domain=ydom, nice=False, zero=False)
    layers = [
        alt.Chart(df).mark_square(size=3, color="black", opacity=1).encode(
            x=alt.X("x:Q", scale=sx, axis=None), y=alt.Y("y:Q", scale=sy, axis=None)),
        alt.Chart(pd.DataFrame({"v": [pct]})).mark_rule(color=RED, strokeWidth=1.6).encode(
            y=alt.Y("v:Q", scale=sy, axis=None)),
        alt.Chart(pd.DataFrame({"v": [dash]})).mark_rule(
            color=RED, strokeWidth=1.6, strokeDash=[12, 6]).encode(
            x=alt.X("v:Q", scale=sx, axis=None)),
    ]
    for vals, L in ((X_MAJOR, 9), (X_MINOR, 4.5)):
        d = pd.DataFrame({"v": [v for v in vals if xdom[0] < v < xdom[1]]})
        base = alt.Chart(d).mark_rule(color=INK, strokeWidth=1)
        ex = alt.X("v:Q", scale=sx, axis=None)
        layers.append(base.encode(x=ex, y=alt.value(H), y2=alt.value(H - L)))
        layers.append(base.encode(x=ex, y=alt.value(0), y2=alt.value(L)))
    for vals, L in ((ymaj, 9), (ymin, 4.5)):
        d = pd.DataFrame({"v": [v for v in vals if ydom[0] < v < ydom[1]]})
        base = alt.Chart(d).mark_rule(color=INK, strokeWidth=1)
        ey = alt.Y("v:Q", scale=sy, axis=None)
        layers.append(base.encode(y=ey, x=alt.value(0), x2=alt.value(L)))
        layers.append(base.encode(y=ey, x=alt.value(W), x2=alt.value(W - L)))
    layers.append(alt.Chart(pd.DataFrame({"v": ymaj, "t": ylab})).mark_text(
        font=FONT, fontSize=TICK_SIZE, align="right", baseline="middle", color="black").encode(
        y=alt.Y("v:Q", scale=sy, axis=None), x=alt.value(-9), text="t:N"))
    if show_x:
        layers.append(alt.Chart(pd.DataFrame({"v": X_MAJOR, "t": X_LABELS})).mark_text(
            font=FONT, fontSize=TICK_SIZE, align="center", baseline="middle", color="black").encode(
            x=alt.X("v:Q", scale=sx, axis=None), y=alt.value(H + 15), text="t:N"))
    for s, yy in notes:
        if s == "PCT":
            layers.append(txt("68.27", NOTE_X, yy, NOTE_SIZE))
            layers.append(txt("th", NOTE_X + 31, yy - 3.5, 7.2))
            layers.append(txt("PERCENTILE", NOTE_X + 42, yy, NOTE_SIZE))
        else:
            layers.append(txt(s, NOTE_X, yy, NOTE_SIZE))
    return layers


def ytitle():
    return [txt("σ", -65, 249, 21, style="italic", angle=270),
            txt("(Radial residual) [pix]", -65, 235.5, 21, angle=270)]


def xtitle(letter, yy, x_end, x_start):
    return [txt(letter, x_end, H + yy, 21, align="right", style="italic"),
            txt("[instrumental]", x_start, H + yy, 21)]


J_EXTRA_TOP = [(J_BAND_X, J_BAND_TOP), (J_HALO_X, J_HALO_TOP)]
J_EXTRA_BOT = [(J_BAND_X, J_BAND_BOT), (J_HALO_X, J_HALO_BOT)]
H_EXTRA_TOP = [(H_BAND_X, H_BAND_TOP), (H_HALO_X, H_HALO_TOP)]
H_EXTRA_BOT = [(H_BAND_X, H_BAND_BOT), (H_HALO_X, H_HALO_BOT)]

p1 = alt.layer(*panel(J_X, J_TOP, J_EXTRA_TOP, -15.1, 100.0, J_DOMAIN, J_TOP_DOMAIN,
                      TOP_Y_MAJOR, TOP_Y_LABELS, TOP_Y_MINOR, PCT_J_TOP, DASH_J, NOTES_J_TOP, False),
               *ytitle()).properties(width=W, height=H)
p2 = alt.layer(*panel(J_X, J_BOT, J_EXTRA_BOT, -15.1, 1000.0, J_DOMAIN, BOT_DOMAIN,
                      BOT_Y_MAJOR, BOT_Y_LABELS, BOT_Y_MINOR, PCT_J_BOT, DASH_J, NOTES_J_BOT, True),
               *xtitle("J", 39, 191, 200)).properties(width=W, height=H)
p3 = alt.layer(*panel(H_X, H_TOP, H_EXTRA_TOP, -15.0, 100.0, H_DOMAIN, H_TOP_DOMAIN,
                      TOP_Y_MAJOR, TOP_Y_LABELS, TOP_Y_MINOR, PCT_H_TOP, DASH_H, NOTES_H_TOP, False),
               *ytitle()).properties(width=W, height=H)
p4 = alt.layer(*panel(H_X, H_BOT, H_EXTRA_BOT, -15.0, 1000.0, H_DOMAIN, BOT_DOMAIN,
                      BOT_Y_MAJOR, BOT_Y_LABELS, BOT_Y_MINOR, PCT_H_BOT, DASH_H, NOTES_H_BOT, True),
               *xtitle("H", 44, 196, 206)).properties(width=W, height=H)

spacer = alt.Chart(pd.DataFrame({"a": [0]})).mark_point(opacity=0).encode(
    x=alt.X("a:Q", axis=None), y=alt.Y("a:Q", axis=None)
).properties(width=W, height=67, view=alt.ViewBackground(strokeOpacity=0))

chart = alt.vconcat(p1, p2, spacer, p3, p4, spacing=17, bounds="flush").properties(
    padding={"left": 12, "top": 0, "right": 0, "bottom": 4}
).configure_view(stroke=INK, strokeWidth=1)

chart.save("out.html", embed_options={"renderer": "svg", "actions": False})
